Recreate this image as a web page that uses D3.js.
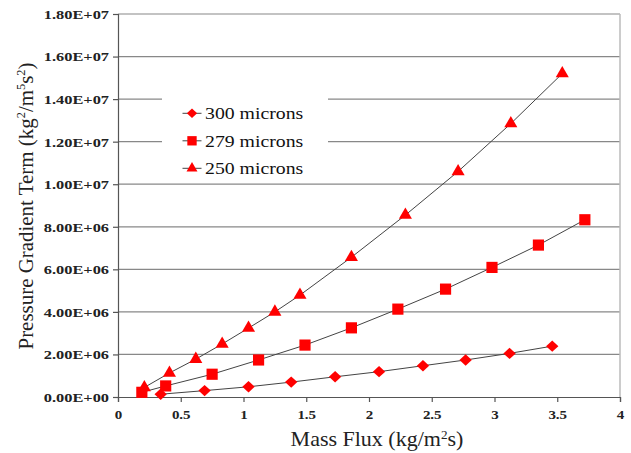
<!DOCTYPE html>
<html>
<head>
<meta charset="utf-8">
<script src="https://cdn.jsdelivr.net/npm/d3@7"></script>
<style>
body { margin: 0; background: #fff; }
</style>
</head>
<body>
<svg width="631" height="453"></svg>
<script>
// series: mass flux (kg/m2s) and pressure gradient term
const x300 = [0.34, 0.69, 1.04, 1.38, 1.73, 2.08, 2.43, 2.77, 3.12, 3.46];
const y300 = [0.13e6, 0.30e6, 0.48e6, 0.70e6, 0.95e6, 1.19e6, 1.47e6, 1.74e6, 2.05e6, 2.39e6];

const x279 = [0.19, 0.38, 0.75, 1.12, 1.49, 1.86, 2.23, 2.61, 2.98, 3.35, 3.72];
const y279 = [0.22e6, 0.52e6, 1.07e6, 1.74e6, 2.44e6, 3.25e6, 4.13e6, 5.07e6, 6.09e6, 7.14e6, 8.33e6];

const x250 = [0.21, 0.41, 0.62, 0.83, 1.04, 1.25, 1.45, 1.86, 2.29, 2.71, 3.13, 3.54];
const y250 = [0.45e6, 1.13e6, 1.78e6, 2.49e6, 3.24e6, 4.0e6, 4.79e6, 6.57e6, 8.55e6, 10.6e6, 12.85e6, 15.2e6];

const seriesNames = ["300 microns", "279 microns", "250 microns"];
const xTicks = [0, 0.5, 1, 1.5, 2, 2.5, 3, 3.5, 4];
const yTicks = [0, 2e6, 4e6, 6e6, 8e6, 1e7, 1.2e7, 1.4e7, 1.6e7, 1.8e7];

const series = [
  { name: seriesNames[0], sym: 'diamond', xs: x300, ys: y300 },
  { name: seriesNames[1], sym: 'square', xs: x279, ys: y279 },
  { name: seriesNames[2], sym: 'triangle', xs: x250, ys: y250 }
];

const FONT = 'Liberation Serif';

var svg = d3.select('svg');

var x = d3.scaleLinear().domain([0, 4]).range([118, 620]);
var y = d3.scaleLinear().domain([0, 1.8e7]).range([397, 14]);

function fmt(v) {
  if (v === 0) return '0.00E+00';
  let e = Math.floor(Math.log10(v));
  let m = v / Math.pow(10, e);
  return m.toFixed(2) + 'E+' + String(e).padStart(2, '0');
}

// marker shapes: diamond = square turned 45 degrees
function marker(kind, scale) {
  if (kind === 'square') return d3.symbol().type(d3.symbolSquare).size(125 * scale)();
  if (kind === 'diamond') return d3.symbol().type(d3.symbolSquare).size(76 * scale)();
  return d3.symbol().type(d3.symbolTriangle).size(74 * scale)();
}
function markerTf(kind) { return kind === 'diamond' ? ' scale(1,0.92) rotate(45)' : ''; }

// gridlines
svg.append('g')
  .selectAll('line')
  .data(yTicks.slice(1))
  .join('line')
  .attr('x1', x(0)).attr('x2', x(4))
  .attr('y1', d => y(d)).attr('y2', d => y(d))
  .attr('stroke', '#888').attr('stroke-width', 1.2);

// right border
svg.append('line')
  .attr('x1', x(4)).attr('x2', x(4))
  .attr('y1', y(1.8e7)).attr('y2', y(0))
  .attr('stroke', '#bbb').attr('stroke-width', 1.5);

// axes
var yAxis = svg.append('g')
  .attr('transform', `translate(${x(0)},0)`)
  .call(d3.axisLeft(y).tickValues(yTicks).tickFormat(fmt).tickSize(5).tickPadding(4));
var xAxis = svg.append('g')
  .attr('transform', `translate(0,${y(0)})`)
  .call(d3.axisBottom(x).tickValues(xTicks).tickFormat(d3.format('')).tickSize(5).tickPadding(5));

[yAxis, xAxis].forEach(a => {
  a.attr('font-family', FONT);
  a.select('.domain').attr('stroke', '#555').attr('stroke-width', 1.2);
  a.selectAll('.tick line').attr('stroke', '#555').attr('stroke-width', 1.2);
  a.selectAll('text')
    .attr('font-family', FONT)
    .attr('font-weight', 'bold')
    .attr('fill', '#222');
});
// labels in the picture are wider than tall, so stretch them sideways
const ky = 1.26, kx = 1.2;
yAxis.selectAll('text')
  .attr('font-size', 13)
  .attr('transform', `scale(${ky},1)`)
  .attr('x', -9 / ky).attr('dy', '0.34em');
xAxis.selectAll('text')
  .attr('font-size', 12.5)
  .attr('transform', `scale(${kx},1)`)
  .attr('y', 22.5).attr('dy', 0);

// axis titles
svg.append('text')
  .attr('transform', 'translate(377,446) scale(1.1,1)')
  .attr('text-anchor', 'middle')
  .attr('font-family', FONT)
  .attr('font-size', 20).attr('fill', '#222')
  .html('Mass Flux (kg/m<tspan dy="-7" font-size="12">2</tspan><tspan dy="7">s)</tspan>');

var yTitle = svg.append('text')
  .attr('text-anchor', 'middle')
  .attr('font-family', FONT)
  .attr('font-size', 22).attr('fill', '#222')
  .html('Pressure Gradient Term (kg<tspan dy="-8" font-size="13">2</tspan><tspan dy="8">/m</tspan><tspan dy="-8" font-size="13">5</tspan><tspan dy="8">s</tspan><tspan dy="-8" font-size="13">2</tspan><tspan dy="8">)</tspan>');
var titleLen = yTitle.node().getBBox().width;
yTitle.attr('transform', `translate(32.5,206) rotate(-90) scale(${287 / titleLen},1)`);

// series lines and markers
var line = d3.line().x(d => x(d[0])).y(d => y(d[1]));
series.forEach(s => {
  let pts = s.xs.map((v, i) => [v, s.ys[i]]);
  svg.append('path')
    .datum(pts)
    .attr('d', line)
    .attr('fill', 'none')
    .attr('stroke', '#444')
    .attr('stroke-width', 1);
  svg.append('g')
    .selectAll('path')
    .data(pts)
    .join('path')
    .attr('transform', d => `translate(${x(d[0])},${y(d[1])})` + markerTf(s.sym))
    .attr('d', marker(s.sym, 1))
    .attr('fill', '#ff0000');
});

// legend
var legend = svg.append('g');
legend.append('rect')
  .attr('x', 162).attr('y', 88).attr('width', 166).attr('height', 92)
  .attr('fill', '#fff');
var rows = legend.selectAll('g')
  .data(series)
  .join('g')
  .attr('transform', (d, i) => `translate(192,${113.3 + i * 27.5})`);
rows.append('line')
  .attr('x1', -9.5).attr('x2', 9.5)
  .attr('stroke', '#444').attr('stroke-width', 1);
rows.append('path')
  .attr('transform', d => markerTf(d.sym).trim() || null)
  .attr('d', d => marker(d.sym, 0.7))
  .attr('fill', '#ff0000');
rows.append('text')
  .attr('transform', 'translate(13,6) scale(1.13,1)')
  .attr('font-family', FONT)
  .attr('font-size', 17.5).attr('fill', '#111')
  .text(d => d.name);
</script>
</body>
</html>
